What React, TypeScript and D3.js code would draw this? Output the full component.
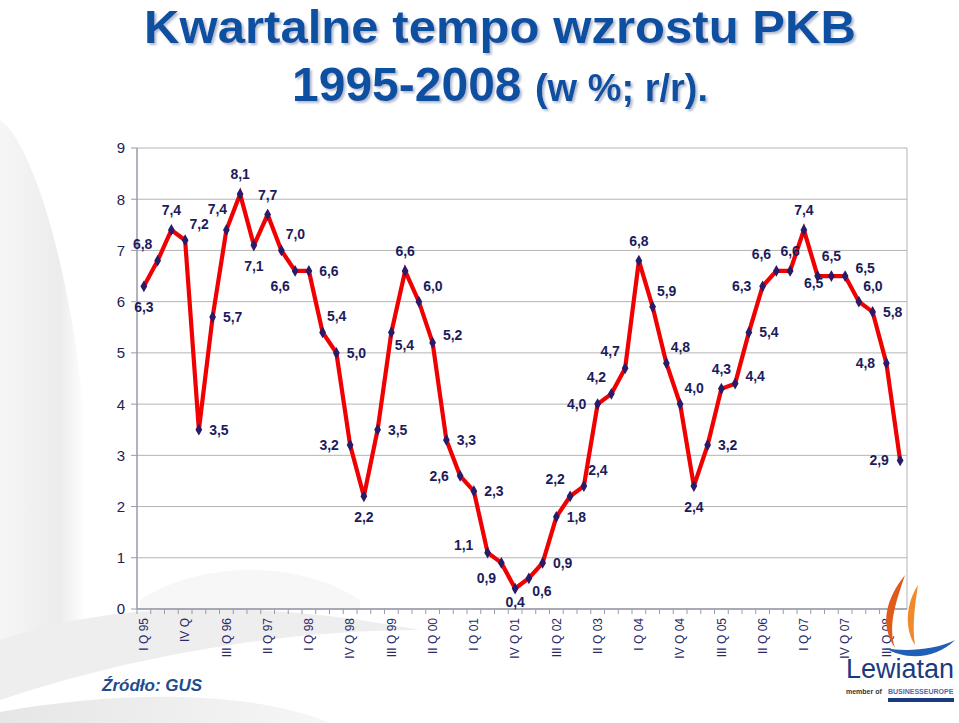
import React from "react";
import * as d3 from "d3";

// ---- data ----
const quarters = ["I", "II", "III", "IV"];
const years = ["95", "96", "97", "98", "99", "00", "01", "02", "03", "04", "05", "06", "07", "08"];
const values = [
  6.3, 6.8, 7.4, 7.2,
  3.5, 5.7, 7.4, 8.1,
  7.1, 7.7, 7.0, 6.6,
  6.6, 5.4, 5.0, 3.2,
  2.2, 3.5, 5.4, 6.6,
  6.0, 5.2, 3.3, 2.6,
  2.3, 1.1, 0.9, 0.4,
  0.6, 0.9, 1.8, 2.2,
  2.4, 4.0, 4.2, 4.7,
  6.8, 5.9, 4.8, 4.0,
  2.4, 3.2, 4.3, 4.4,
  5.4, 6.3, 6.6, 6.6,
  7.4, 6.5, 6.5, 6.5,
  6.0, 5.8, 4.8, 2.9,
];
const tickLabels = [
  "I Q 95", "IV Q", "III Q 96", "II Q 97", "I Q 98", "IV Q 98", "III Q 99", "II Q 00",
  "I Q 01", "IV Q 01", "III Q 02", "II Q 03", "I Q 04", "IV Q 04", "III Q 05", "II Q 06",
  "I Q 07", "IV Q 07", "III Q 08",
];
const yTicks = [0, 1, 2, 3, 4, 5, 6, 7, 8, 9];

// label placement codes (layout only)
const labelPlace = [
  "b", "al", "a", "ar", "r", "r", "aL", "a",
  "b", "a", "ar", "bl", "r", "ar", "r", "l",
  "b", "r", "br", "a", "ar", "ru", "r", "l",
  "r", "lu", "bl", "bb", "br", "r", "r", "al",
  "ar", "l", "al", "al", "a", "ar", "ar", "ar",
  "b", "r", "a", "ru", "r", "l", "al", "a",
  "a", "c", "a", "ru", "ar", "r", "l", "l",
];
const placeOffsets: Record<string, [number, number]> = {
  a: [0, -20], b: [0, 21], r: [20, 0], l: [-21, 0],
  ar: [14, -16], al: [-15, -17], aL: [-9, -21], bl: [-15, 15], br: [13, 13],
  ru: [20, -8], lu: [-24, -8], c: [-4, 7], bb: [0, 13],
};

const categories: string[] = [];
years.forEach((y) => quarters.forEach((q) => categories.push(`${q} Q ${y}`)));

const W = 959, H = 723;
const plot = { left: 137, right: 907, top: 148, bottom: 609 };
const FONT = "'Liberation Sans', Arial, sans-serif";
const NAVY = "#1c1c5c";

export default function App() {
  const x = d3.scaleBand<string>().domain(categories).range([plot.left, plot.right]).padding(0);
  const y = d3.scaleLinear().domain([0, 9]).range([plot.bottom, plot.top]);
  const cx = (i: number) => (x(categories[i]) as number) + x.bandwidth() / 2;
  const line = d3.line<number>().x((_, i) => cx(i)).y((d) => y(d));
  const diamond = d3.symbol().type(d3.symbolDiamond).size(40)() as string;
  const fmt = (v: number) => v.toFixed(1).replace(".", ",");

  return (
    <svg width={W} height={H} style={{ position: "absolute", left: 0, top: 0, background: "#fff" }} fontFamily={FONT}>
      <defs>
        <linearGradient id="lg1" x1="0" x2="1" y1="0" y2="0">
          <stop offset="0" stopColor="#f6f6f6" />
          <stop offset="0.7" stopColor="#ececec" />
          <stop offset="1" stopColor="#ffffff" />
        </linearGradient>
        <linearGradient id="lg2" x1="0" x2="1" y1="0" y2="0">
          <stop offset="0" stopColor="#e6e6e6" />
          <stop offset="1" stopColor="#f6f6f6" />
        </linearGradient>
        <filter id="shadow" x="-5%" y="-20%" width="110%" height="140%">
          <feDropShadow dx="2" dy="2" stdDeviation="0.8" floodColor="#aab4c8" floodOpacity="0.9" />
        </filter>
      </defs>
      {/* background swooshes */}
      <path d="M0,120 C30,140 70,260 85,420 L85,640 C60,650 20,660 0,665 Z" fill="url(#lg1)" />
      <path d="M0,640 C120,600 260,600 420,630 C300,630 150,650 0,700 Z" fill="#eeeeee" />
      <path d="M0,712 C120,690 250,690 330,723 L0,723 Z" fill="url(#lg2)" />
      <path d="M140,600 C200,560 300,560 360,600 L360,609 L140,609 Z" fill="#f4f4f4" opacity="0.7" />

      {/* title */}
      <g fontWeight="bold" textAnchor="middle" fill="#0e4fa1" filter="url(#shadow)">
        <text x={500} y={43} fontSize={47} textLength={712} lengthAdjust="spacingAndGlyphs">Kwartalne tempo wzrostu PKB</text>
        <text x={500} y={101}>
          <tspan fontSize={48}>1995-2008 </tspan>
          <tspan fontSize={38}>(w %; r/r).</tspan>
        </text>
      </g>

      {/* gridlines */}
      {yTicks.map((t) => (
        <line key={t} x1={plot.left} x2={plot.right} y1={y(t)} y2={y(t)} stroke="#b4b4b4" strokeWidth={1} />
      ))}
      <line x1={plot.right} x2={plot.right} y1={plot.top} y2={plot.bottom} stroke="#b4b4b4" />

      {/* y axis */}
      <line x1={plot.left} x2={plot.left} y1={plot.top} y2={plot.bottom} stroke="#9a9aa8" strokeWidth={1.5} />
      {yTicks.map((t) => (
        <g key={t}>
          <line x1={plot.left - 6} x2={plot.left} y1={y(t)} y2={y(t)} stroke="#9a9aa8" />
          <text x={plot.left - 12} y={y(t)} dy="0.36em" textAnchor="end" fontSize={15} fill="#22224e">{t}</text>
        </g>
      ))}

      {/* x axis */}
      <line x1={plot.left} x2={plot.right} y1={plot.bottom} y2={plot.bottom} stroke="#9a9aa8" strokeWidth={1.5} />
      {categories.map((c) => (
        <line key={c} x1={x(c) as number} x2={x(c) as number} y1={plot.bottom} y2={plot.bottom + 5} stroke="#9a9aa8" />
      ))}
      {tickLabels.map((lab, k) => {
        const i = k * 3;
        return (
          <text key={lab + k} transform={`translate(${cx(i)},${plot.bottom + 9}) rotate(-90)`} dy="0.36em"
            textAnchor="end" fontSize={12} fill="#2a2a6a">{lab}</text>
        );
      })}

      {/* series */}
      <path d={line(values) as string} fill="none" stroke="#f00000" strokeWidth={4.2} strokeLinejoin="miter" />
      {values.map((v, i) => (
        <path key={i} d={diamond} transform={`translate(${cx(i)},${y(v)})`} fill="#2a1a6a" />
      ))}
      {values.map((v, i) => {
        const [dx, dy] = placeOffsets[labelPlace[i]];
        return (
          <text key={"l" + i} x={cx(i) + dx} y={y(v) + dy} dy="0.36em" textAnchor="middle"
            fontSize={14} fontWeight="bold" fill={NAVY}>{fmt(v)}</text>
        );
      })}

      {/* source */}
      <text x={102} y={691} fontSize={17} fontWeight="bold" fontStyle="italic" fill="#1d4d8d">Źródło: GUS</text>

      {/* logo */}
      <g>
        <path d="M905,575 C885,600 880,625 895,648 C888,625 895,605 905,575 Z" fill="#e05a1a" />
        <path d="M918,585 C905,605 905,630 915,645 C912,625 915,605 918,585 Z" fill="#f08a2a" />
        <path d="M885,648 C905,660 935,660 955,640 C935,650 905,652 885,648 Z" fill="#1f5fb5" />
        <text x={846} y={678} fontSize={27} fill="#1a3a80" textLength={108} lengthAdjust="spacingAndGlyphs">Lewiatan</text>
        <text x={846} y={694} fontSize={7} fill="#333" fontWeight="bold">member of</text>
        <text x={888} y={694} fontSize={7} fill="#4a6ab0" fontWeight="bold">BUSINESSEUROPE</text>
        <rect x={888} y={698} width={66} height={4} fill="#1a3a80" />
      </g>
    </svg>
  );
}
